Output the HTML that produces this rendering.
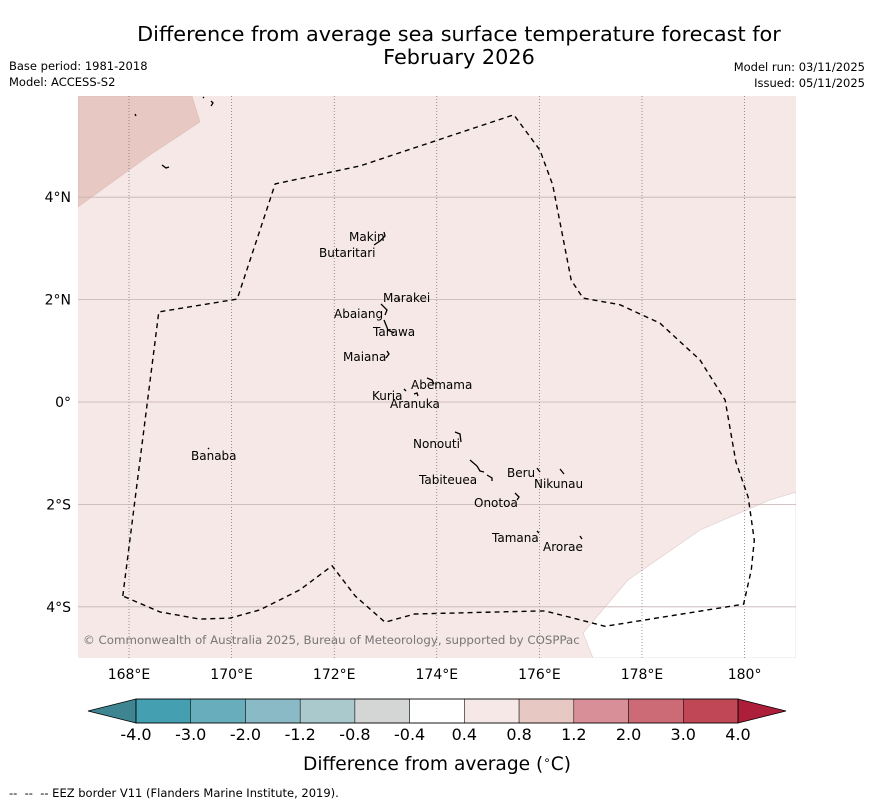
<!DOCTYPE html>
<html><head><meta charset="utf-8"><style>
body{margin:0;background:#fff;width:873px;height:804px;overflow:hidden;font-family:"DejaVu Sans","Liberation Sans",sans-serif}
svg text{font-family:"DejaVu Sans","Liberation Sans",sans-serif}
</style></head><body>
<svg id="s" width="873" height="804" xmlns="http://www.w3.org/2000/svg">
<text x="459" y="41" font-size="20.8" text-anchor="middle">Difference from average sea surface temperature forecast for</text>
<text x="459" y="64" font-size="20.8" text-anchor="middle">February 2026</text>
<text x="9" y="70" font-size="11.5">Base period: 1981-2018</text>
<text x="9" y="86" font-size="11.5">Model: ACCESS-S2</text>
<text x="865" y="71" font-size="11.5" text-anchor="end">Model run: 03/11/2025</text>
<text x="865" y="87" font-size="11.5" text-anchor="end">Issued: 05/11/2025</text>
<defs><clipPath id="mc"><rect x="78" y="96" width="718" height="562"/></clipPath></defs>
<g clip-path="url(#mc)">
<rect x="78" y="96" width="718" height="562" fill="#f5e8e6"/>
<path d="M78,96 L192,96 L200,122 L150,155 L78,207 Z" fill="#e8c8c3" stroke="#d9b5b0" stroke-width="0.5"/>
<path d="M583,633 L628,580 L700,530 L770,500 L796,492 L796,658 L593,658 Z" fill="#fff" stroke="#e0cccc" stroke-width="0.6"/>
<g id="grid"></g>
<g id="eez"></g>
<g id="islands" stroke="#000" stroke-width="1.3" fill="none">
<path d="M384,232 L385,236 L380,241 L374,245"/>
<path d="M381,304 L387,310 L385,315"/><path d="M398,299 l2,1"/>
<path d="M384,320 L388,330 L394,333"/>
<path d="M387,351 L389,354 L386,358"/>
<path d="M427,378 L432,380 L434,384"/><path d="M404,389 l2,2"/><path d="M414,394 l3,-1 l1,3"/>
<path d="M455,432 L460,434 L461,442"/>
<path d="M470,460 L477,466 L480,471 L484,472 M487,475 L492,478 L492,481"/>
<path d="M537,468 L540,472"/><path d="M560,469 L564,474"/>
<path d="M515,493 L519,497 L517,500"/>
<path d="M537,531 L539,533"/><path d="M580,536 L582,539"/>
<path d="M208,448 l1,1"/><path d="M135,114 l1,2"/><path d="M162,165 l4,3 l3,-1"/><path d="M203,97 l1,1 M211,101 L213,103 L211,106"/>
</g>
<g font-size="12" fill="#000">
<text x="349" y="241">Makin</text><text x="319" y="257">Butaritari</text>
<text x="383" y="302">Marakei</text><text x="334" y="318">Abaiang</text>
<text x="373" y="336">Tarawa</text><text x="343" y="361">Maiana</text>
<text x="411" y="389">Abemama</text><text x="372" y="400">Kuria</text>
<text x="390" y="408">Aranuka</text><text x="413" y="448">Nonouti</text>
<text x="419" y="484">Tabiteuea</text><text x="507" y="477">Beru</text>
<text x="534" y="488">Nikunau</text><text x="474" y="507">Onotoa</text>
<text x="492" y="542">Tamana</text><text x="543" y="551">Arorae</text>
<text x="191" y="460">Banaba</text>
</g>
<text x="83" y="644" font-size="11.8" fill="#777">© Commonwealth of Australia 2025, Bureau of Meteorology, supported by COSPPac</text>
</g>
<g id="ticks" font-size="14"></g>
<g id="cbar"></g>
<text x="437" y="770" font-size="18.6" text-anchor="middle">Difference from average (<tspan font-size="12" dy="-6">∘</tspan><tspan dy="6">C)</tspan></text>
<text x="9" y="797" font-size="11.5">-- &#160;-- &#160;-- EEZ border V11 (Flanders Marine Institute, 2019).</text>
</svg>
<script>
const lonTicks=[168,170,172,174,176,178,180];
const lonLabels=["168°E","170°E","172°E","174°E","176°E","178°E","180°"];
const latTicks=[4,2,0,-2,-4];
const latLabels=["4°N","2°N","0°","2°S","4°S"];
const eezLon=[167.88,168.58,170.11,170.85,172.50,175.50,176.01,176.26,176.62,176.85,177.57,178.35,179.13,179.62,179.83,180.07,180.19,180.13,179.98,177.28,176.11,175.23,173.57,172.99,172.41,171.96,171.33,170.55,169.97,169.38,168.60,167.88];
const eezLat=[-3.79,1.76,2.01,4.26,4.61,5.61,4.92,4.24,2.38,2.03,1.90,1.54,0.82,0.04,-1.17,-1.86,-2.70,-3.28,-3.95,-4.38,-4.08,-4.10,-4.14,-4.30,-3.79,-3.20,-3.67,-4.06,-4.22,-4.24,-4.10,-3.79];
const cbBounds=["-4.0","-3.0","-2.0","-1.2","-0.8","-0.4","0.4","0.8","1.2","2.0","3.0","4.0"];
const cbColors=["#44a0b0","#68adbb","#8abac5","#a9c9cd","#d4d6d5","#ffffff","#f5e8e6","#e8c8c3","#d98f97","#cc6a75","#c04755"];
const NS="http://www.w3.org/2000/svg";
const X=lon=>77.7+(lon-167)*51.3, Y=lat=>402-lat*51.2;
function mk(t,a,p){const e=document.createElementNS(NS,t);for(const k in a)e.setAttribute(k,a[k]);p.appendChild(e);return e;}
const g=document.getElementById('grid'),tk=document.getElementById('ticks');
lonTicks.forEach((v,i)=>{const l=mk('line',{x1:X(v),x2:X(v),y1:96,y2:658,stroke:'#555','stroke-width':0.6,'stroke-dasharray':'1,2'},g);

const t=mk('text',{x:X(v),y:679,'text-anchor':'middle'},tk);t.textContent=lonLabels[i];
});
latTicks.forEach((v,i)=>{const l=mk('line',{x1:78,x2:796,y1:Y(v),y2:Y(v),stroke:'#c4b4b2','stroke-width':0.8},g);

const t=mk('text',{x:71,y:Y(v)+5,'text-anchor':'end'},tk);t.textContent=latLabels[i];
});
const d=eezLon.map((v,i)=>(i?'L':'M')+X(v).toFixed(1)+','+Y(eezLat[i]).toFixed(1)).join(' ');
const ep=mk('path',{d:d,fill:'none',stroke:'#000','stroke-width':1.4,'stroke-dasharray':'5,4','stroke-linejoin':'round'},document.getElementById('eez'));

const cb=document.getElementById('cbar'),x0=136,x1=738,w=(x1-x0)/cbColors.length,y0=699,h=24;
const lt=mk('path',{d:`M${x0},${y0} L88,${y0+h/2} L${x0},${y0+h} Z`,fill:'#3e8591',stroke:'#000','stroke-width':0.8},cb);

const rt=mk('path',{d:`M${x1},${y0} L786,${y0+h/2} L${x1},${y0+h} Z`,fill:'#ad1e3a',stroke:'#000','stroke-width':0.8},cb);

cbColors.forEach((c,i)=>{const r=mk('rect',{x:x0+i*w,y:y0,width:w,height:h,fill:c,stroke:'#000','stroke-width':0.5},cb);
});
mk('rect',{x:x0,y:y0,width:x1-x0,height:h,fill:'none',stroke:'#000','stroke-width':0.8},cb);
cbBounds.forEach((s,i)=>{const t=mk('text',{x:x0+i*w,y:740,'font-size':16,'text-anchor':'middle'},cb);t.textContent=s;
});
</script>
</body></html>
